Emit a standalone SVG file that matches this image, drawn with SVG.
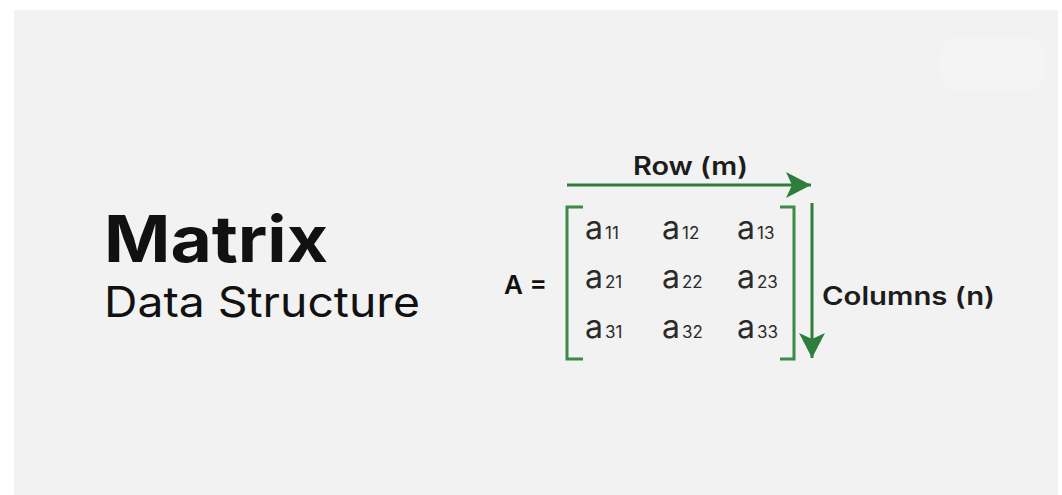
<svg xmlns="http://www.w3.org/2000/svg" width="1062" height="495" viewBox="0 0 1062 495">
  <style>
    .t { font-family: Inter, "Open Sans", "Liberation Sans", sans-serif; fill: #111111; }
    .lbl { font-family: Inter, "Open Sans", "Liberation Sans", sans-serif; font-weight: 600; fill: #1c1c1c; font-size: 25px; }
    .el { font-family: Inter, "Open Sans", "Liberation Sans", sans-serif; fill: #2b2b2b; }
    .el .a { font-size: 32px; }
    .el .s { font-size: 17px; }
    .br { fill: none; stroke: #3b8a47; stroke-width: 3; }
    .arr { fill: none; stroke: #2e7d3b; stroke-width: 3; }
  </style>
  <defs>
    <marker id="head" markerUnits="userSpaceOnUse" markerWidth="28" markerHeight="28" refX="25" refY="13" orient="auto">
      <path d="M0,0 L25,13 L0,26 L6,13 z" fill="#2e7d3b"/>
    </marker>
  </defs>
  <rect x="0" y="0" width="1062" height="495" fill="#ffffff"/>
  <rect x="14" y="10" width="1044" height="485" fill="#f2f2f2"/>
  <rect x="940" y="38" width="105" height="52" rx="18" fill="#f4f4f4"/>

  <g id="title">
    <text class="t" x="104" y="262" font-size="64" font-weight="700" textLength="224" lengthAdjust="spacingAndGlyphs">Matrix</text>
    <text class="t" x="104" y="317" font-size="42" font-weight="400" textLength="316" lengthAdjust="spacingAndGlyphs">Data Structure</text>
  </g>

  <g id="label-A">
    <text class="t" x="504" y="294" font-size="26" font-weight="600" textLength="43" lengthAdjust="spacingAndGlyphs">A =</text>
  </g>

  <g id="label-row">
    <text class="lbl" x="633" y="175" textLength="115" lengthAdjust="spacingAndGlyphs">Row (m)</text>
  </g>

  <g id="label-columns">
    <text class="lbl" x="822" y="305" textLength="173" lengthAdjust="spacingAndGlyphs">Columns (n)</text>
  </g>

  <g id="matrix">
    <path class="br" d="M583,207 H567 V359 H583"/>
    <path class="br" d="M780,207 H794 V359 H780"/>
    <text class="el" x="585" y="239"><tspan class="a">a</tspan><tspan class="s" dx="2">11</tspan></text>
    <text class="el" x="662" y="239"><tspan class="a">a</tspan><tspan class="s" dx="2">12</tspan></text>
    <text class="el" x="737" y="239"><tspan class="a">a</tspan><tspan class="s" dx="2">13</tspan></text>
    <text class="el" x="585" y="288"><tspan class="a">a</tspan><tspan class="s" dx="2">21</tspan></text>
    <text class="el" x="662" y="288"><tspan class="a">a</tspan><tspan class="s" dx="2">22</tspan></text>
    <text class="el" x="737" y="288"><tspan class="a">a</tspan><tspan class="s" dx="2">23</tspan></text>
    <text class="el" x="585" y="338"><tspan class="a">a</tspan><tspan class="s" dx="2">31</tspan></text>
    <text class="el" x="662" y="338"><tspan class="a">a</tspan><tspan class="s" dx="2">32</tspan></text>
    <text class="el" x="737" y="338"><tspan class="a">a</tspan><tspan class="s" dx="2">33</tspan></text>
  </g>

  <g id="connectors">
    <line class="arr" x1="567" y1="185" x2="811" y2="185" marker-end="url(#head)"/>
    <line class="arr" x1="812" y1="203" x2="812" y2="358" marker-end="url(#head)"/>
  </g>
</svg>
